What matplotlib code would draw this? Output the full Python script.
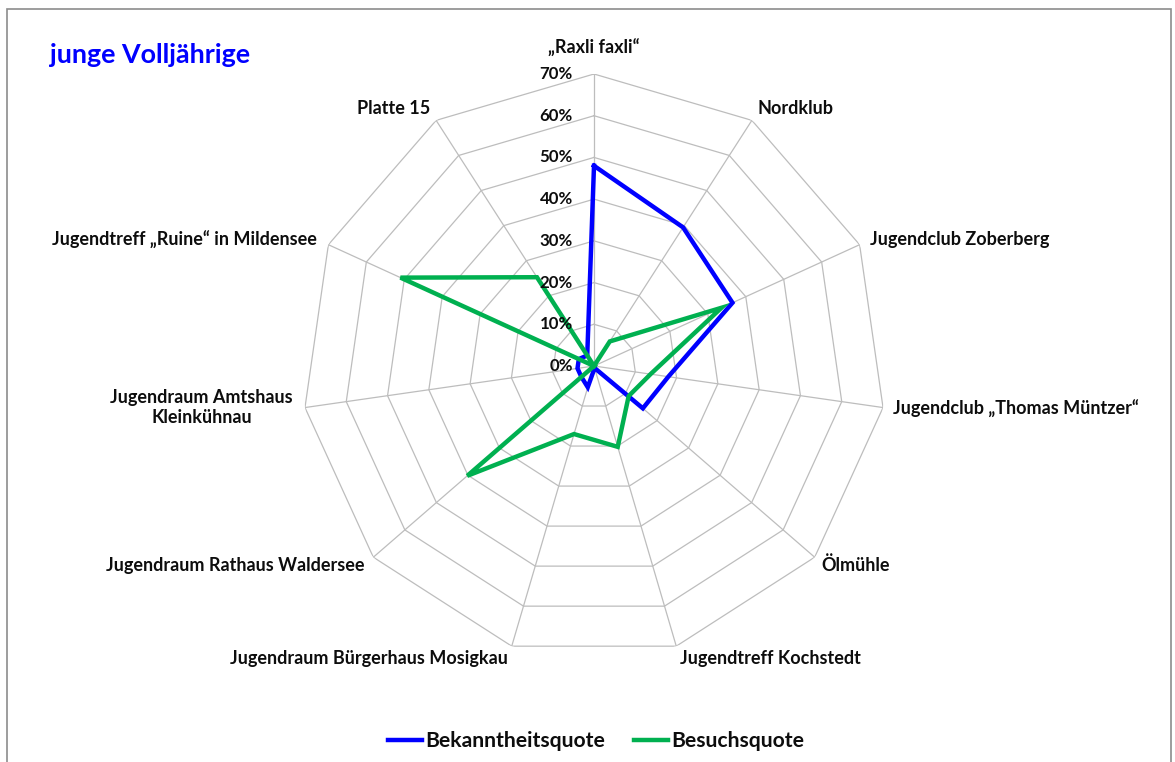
import numpy as np
import matplotlib
matplotlib.use("Agg")
import matplotlib.pyplot as plt
from matplotlib.lines import Line2D
from matplotlib.patches import Rectangle

categories = ["„Raxli faxli“", "Nordklub", "Jugendclub Zoberberg",
              "Jugendclub „Thomas Müntzer“", "Ölmühle", "Jugendtreff Kochstedt",
              "Jugendraum Bürgerhaus Mosigkau", "Jugendraum Rathaus Waldersee",
              "Jugendraum Amtshaus\nKleinkühnau", "Jugendtreff „Ruine“ in Mildensee",
              "Platte 15"]
bekanntheit = [0.48, 0.395, 0.365, 0.18, 0.155, 0.005, 0.053, 0.04, 0.04, 0.04, 0.03]
besuch = [0.0, 0.07, 0.336, 0.137, 0.11, 0.202, 0.17, 0.402, 0.0, 0.51, 0.253]
ring_values = [0.0, 0.1, 0.2, 0.3, 0.4, 0.5, 0.6, 0.7]
ring_labels = ["0%", "10%", "20%", "30%", "40%", "50%", "60%", "70%"]
title = "junge Volljährige"
series_names = ["Bekanntheitsquote", "Besuchsquote"]

FONT = ["Lato", "DejaVu Sans"]
plt.rcParams['font.family'] = FONT

W, H = 1175, 762
fig = plt.figure(figsize=(W / 100, H / 100), dpi=100)
cx, cy, R = 594, 366, 292
ax = fig.add_axes([(cx - R) / W, (H - cy - R) / H, 2 * R / W, 2 * R / H], projection='polar')
ax.set_theta_offset(np.pi / 2)
ax.set_theta_direction(-1)
ax.set_ylim(0, 0.7)
ax.grid(False)
ax.spines['polar'].set_visible(False)
ax.set_xticks([])
ax.set_yticks([])
ax.patch.set_alpha(0)

n = len(categories)
theta = np.arange(n) * 2 * np.pi / n
theta_c = np.append(theta, theta[0])

grid_col = "#bdbdbd"
for r in ring_values[1:]:
    ax.plot(theta_c, [r] * (n + 1), color=grid_col, lw=0.9, zorder=1)
for t in theta:
    ax.plot([t, t], [0, ring_values[-1]], color=grid_col, lw=0.9, zorder=1)

blue = "#0000FF"
green = "#00B050"
ax.plot(theta_c, bekanntheit + bekanntheit[:1], color=blue, lw=3.2, zorder=3,
        solid_joinstyle='miter')
ax.plot(theta_c, besuch + besuch[:1], color=green, lw=3.2, zorder=4,
        solid_joinstyle='miter')

text_col = "#0d0d0d"
for r, lab in zip(ring_values, ring_labels):
    ax.annotate(lab, xy=(0, r), xytext=(-21, 0), textcoords='offset pixels',
                ha='right', va='center', fontsize=12.2, fontweight='bold', color=text_col,
                zorder=5)

offsets = [(0, 26), (6, 12), (10, 5), (10, -1.5), (7, -8), (4, -12),
           (-4, -12), (-9, -8), (-12, 0), (-12, 5), (-6, 12)]
for t, lab, (dx, dy) in zip(theta, categories, offsets):
    ha = 'center' if dx == 0 else ('left' if dx > 0 else 'right')
    ax.annotate(lab, xy=(t, ring_values[-1]), xytext=(dx, dy), textcoords='offset pixels',
                ha=ha, va='center', multialignment='center', fontsize=13,
                fontweight='bold', color=text_col, annotation_clip=False,
                linespacing=1.25)

fig.text(50 / W, 1 - 55 / H, title, color=blue, fontsize=19.4, fontweight='bold',
         ha='left', va='center')

handles = [Line2D([], [], color=blue, lw=3.2), Line2D([], [], color=green, lw=3.2)]
fig.legend(handles, series_names, loc='center', bbox_to_anchor=(596 / W, 1 - 741 / H),
           ncol=2, frameon=False, prop={'weight': 'bold', 'size': 15.2, 'family': FONT},
           handlelength=1.6, handletextpad=0.15, columnspacing=1.4,
           labelcolor=text_col)

fig.patches.append(Rectangle((6.5 / W, -0.05), (1171 - 6.5) / W, 1.05 - 9 / H,
                             transform=fig.transFigure, fill=False,
                             edgecolor='#8c8c8c', lw=1.2))

fig.savefig("out.png", dpi=100)
